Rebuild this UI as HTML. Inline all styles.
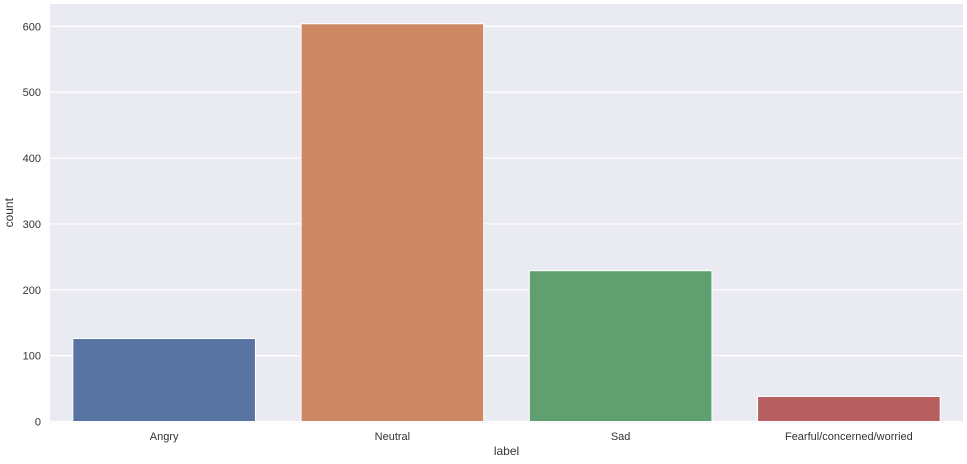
<!DOCTYPE html>
<html><head><meta charset="utf-8"><style>
body{margin:0;background:#fff;font-family:"Liberation Sans",sans-serif;}
</style></head><body>
<svg id="chart" width="967" height="459" xmlns="http://www.w3.org/2000/svg" font-family="Liberation Sans, sans-serif"></svg>
<script>
const categories = ["Angry","Neutral","Sad","Fearful/concerned/worried"];
const counts = [126, 604, 229, 38];
const colors = ["#5874a3","#cd8963","#60a070","#b65e60"];
const yTicks = [0,100,200,300,400,500,600];
const NS="http://www.w3.org/2000/svg";
const svg=document.getElementById('chart');
const L=50,R=963,T=4,B=421.5;
const yMax=634;
const y=v=>B-(v/yMax)*(B-T);
const band=(R-L)/categories.length;
const x=i=>L+band*i;
function mk(tag,attrs){const e=document.createElementNS(NS,tag);for(const k in attrs)e.setAttribute(k,attrs[k]);svg.appendChild(e);return e;}
const bg=mk('rect',{x:L,y:T,width:R-L,height:B-T+1,fill:'#eaeaf2'});


yTicks.forEach(t=>{
  const g=mk('line',{x1:L,x2:R,y1:y(t),y2:y(t),stroke:'#fff','stroke-width':1.2});
  
  
  const tx=mk('text',{x:L-9,y:y(t)+4,'text-anchor':'end','font-size':11,fill:'#333'});
  tx.textContent=t;
  
  
});
categories.forEach((c,i)=>{
  const bw=band*0.8;
  const r=mk('rect',{x:x(i)+band*0.1,y:y(counts[i]),width:bw,height:B-y(counts[i]),fill:colors[i],stroke:'#fff','stroke-width':1});
  
  
  const tx=mk('text',{x:x(i)+band/2,y:440,'text-anchor':'middle','font-size':11,fill:'#333'});
  tx.textContent=c;
  
  
});
const xt=mk('text',{x:(L+R)/2,y:455,'text-anchor':'middle','font-size':12,fill:'#333'});
xt.textContent='label';


const yt=mk('text',{x:0,y:0,'text-anchor':'middle','font-size':12,fill:'#333',transform:'translate(13,'+((T+B)/2)+') rotate(-90)'});
yt.textContent='count';


</script>
</body></html>
